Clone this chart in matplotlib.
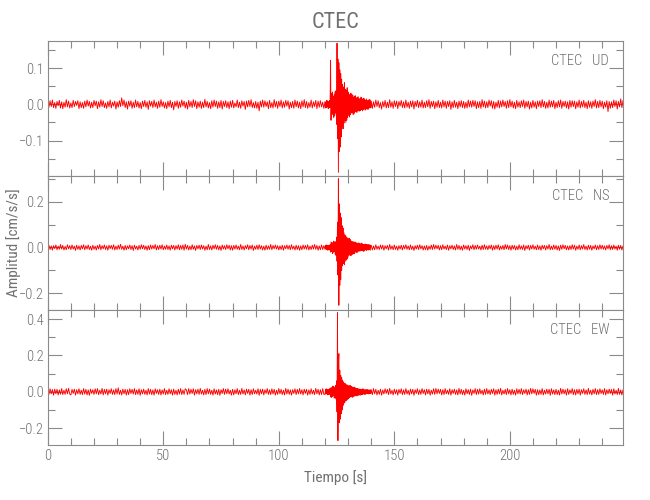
import numpy as np
import matplotlib
matplotlib.use('Agg')
import matplotlib.pyplot as plt
from matplotlib.ticker import MultipleLocator, FuncFormatter

# station / channels
station = 'CTEC'
channels = ['UD', 'NS', 'EW']

# sample times [s]: 0.5 s before and after the event, 0.2 s inside it
t_pre = np.arange(0, 120, 0.5)
t_evt = np.arange(120, 140, 0.2)
t_post = np.arange(140, 250, 0.5)

# amplitudes, in 0.001 cm/s/s
ud_pre = [3,-8,10,-6,12,-9,5,-11,8,-4,11,-10,7,-12,6,-8,13,-7,9,-10,
          4,-9,11,-6,8,-3,10,-12,7,-9,5,-11,9,-7,12,-5,8,-10,6,-9,
          11,-4,9,-12,7,-8,13,-6,10,-9,4,-11,8,-7,12,-10,6,-5,9,-13,
          7,-8,10,-6,18,-4,12,-9,7,-13,9,-5,10,-11,6,-9,12,-7,8,-10,
          5,-12,9,-6,11,-8,7,-14,10,-5,8,-9,12,-7,6,-11,9,-8,13,-6,
          7,-10,5,-12,9,-7,11,-9,6,-15,8,-6,10,-11,7,-8,12,-5,9,-10,
          6,-13,11,-7,8,-9,13,-6,10,-12,7,-8,9,-11,6,-9,14,-7,8,-10,
          5,-12,10,-8,12,-6,9,-11,7,-9,11,-13,8,-6,10,-9,7,-12,9,-8,
          11,-10,4,-7,12,-9,6,-11,10,-5,8,-14,9,-7,11,-6,13,-9,5,-10,
          8,-11,6,-18,9,-7,12,-8,10,-6,7,-12,11,-9,5,-10,13,-7,8,-11,
          9,-6,12,-10,7,-8,11,-5,10,-13,6,-9,8,-11,12,-7,9,-10,6,-12,
          10,-7,13,-9,8,-11,5,-8,12,-10,7,-6,11,-12,9,-8,10,-7,6,-11]
ud_evt = [8,-10,6,-9,11,-7,9,-12,7,-8,10,-9,
          122,-44,
          30,-25,34,-28,22,-36,27,-31,35,-24,38,
          -55,169,-95,125,-188,115,-130,95,-118,85,-90,
          70,-62,55,-68,48,-52,60,-45,42,-50,38,-44,46,-36,
          34,-30,28,-35,25,-29,31,-24,27,-22,26,-28,20,-25,23,-19,24,-21,18,-22,20,-17,21,-18,16,
          -19,15,-17,20,-14,16,-18,13,-15,17,-12,14,-16,11,-13,15,-12,10,-14,12,-11,13,-9,12,-10]
ud_post = [9,-11,7,-8,12,-6,10,-9,5,-13,8,-7,11,-10,6,-9,13,-8,7,-11,
           10,-6,9,-12,8,-5,11,-9,7,-10,12,-8,6,-11,9,-7,10,-13,8,-6,
           11,-9,7,-8,12,-10,6,-9,10,-7,13,-11,8,-6,9,-12,7,-8,11,-9,
           6,-10,12,-7,9,-11,8,-6,10,-14,7,-9,11,-8,6,-12,9,-7,10,-9,
           8,-11,6,-10,12,-7,9,-8,11,-6,10,-12,7,-9,8,-11,13,-7,9,-10,
           7,-9,12,-5,10,-11,8,-13,6,-8,11,-10,9,-7,12,-6,8,-11,10,-9,
           13,-7,9,-10,6,-12,11,-8,7,-9,10,-6,12,-11,8,-7,9,-13,6,-10,
           11,-8,7,-12,9,-6,10,-9,13,-7,8,-11,6,-10,12,-8,9,-7,11,-12,
           6,-9,10,-7,12,-11,8,-6,9,-10,7,-13,11,-8,10,-6,9,-12,7,-8,
           12,-10,8,-7,11,-9,6,-12,10,-8,7,-11,9,-6,13,-10,8,-9,11,-7,
           9,-12,6,-8,10,-20,8,-11,7,-9,12,-6,10,-13,8,-7,15,-9,11,-8]

ns_pre = [-6,10,-9,7,-12,8,-5,11,-10,6,-8,13,-7,9,-11,5,-10,12,-6,8,
          -9,11,-7,6,-13,10,-8,7,-11,9,-6,12,-10,8,-7,11,-9,5,-12,10,
          -8,6,-11,9,-7,13,-10,8,-6,11,-9,7,-12,10,-5,9,-8,12,-11,6,
          -9,10,-7,14,-8,6,-12,9,-10,7,-6,11,-9,8,-13,10,-7,6,-11,9,
          -8,12,-6,10,-9,7,-12,8,-10,11,-7,9,-6,13,-11,8,-9,10,-7,12,
          -10,6,-8,11,-9,7,-12,10,-6,9,-11,8,-7,12,-10,9,-8,11,-12,14,
          -7,9,-11,6,-10,12,-8,7,-13,9,-6,10,-9,11,-7,8,-12,6,-10,13,
          -9,7,-11,10,-6,12,-8,9,-10,7,-13,11,-7,8,-9,12,-6,10,-11,8,
          -12,9,-7,11,-8,6,-10,13,-9,7,-11,8,-6,12,-10,9,-7,11,-13,6,
          -8,10,-9,12,-7,8,-11,6,-12,10,-9,7,-8,13,-10,9,-6,11,-7,8,
          -11,7,-9,10,-12,8,-6,11,-8,9,-10,12,-7,6,-11,10,-9,8,-12,7,
          -10,11,-7,9,-8,12,-11,6,-9,10,-7,13,-8,9,-12,7,-10,11,-9,8]
ns_evt = [-8,10,-7,11,-9,8,-12,9,-10,7,-11,12,
          -20,24,
          -18,22,-26,19,-21,28,-17,23,-30,25,-35,
          45,-60,110,-120,300,-252,190,-165,150,-140,130,
          -100,95,-80,85,-70,65,-75,55,-60,50,-55,45,-50,40,
          -42,38,-35,40,-30,34,-36,28,-32,26,-30,25,-27,22,-28,24,-20,23,-21,18,-22,19,-17,20,-16,
          18,-15,17,-14,19,-13,16,-15,12,-17,14,-12,15,-11,13,-14,12,-10,13,-11,12,-9,11,-12,10]
ns_post = [9,-11,7,-10,12,-8,6,-9,11,-7,10,-12,8,-6,9,-11,13,-8,7,-10,
           11,-9,6,-12,8,-7,10,-11,9,-6,12,-8,7,-10,11,-9,6,-13,8,-7,
           10,-9,12,-6,8,-11,7,-10,9,-12,6,-8,11,-9,13,-7,10,-6,9,-11,
           8,-10,12,-7,6,-9,11,-12,8,-6,10,-9,7,-11,13,-8,9,-10,6,-12,
           11,-7,8,-9,10,-13,7,-6,12,-10,9,-8,11,-7,6,-11,10,-9,12,-8,
           7,-10,9,-6,11,-12,8,-9,10,-7,12,-11,6,-8,9,-10,13,-7,11,-9,
           8,-12,10,-7,9,-11,6,-10,12,-8,7,-9,11,-13,8,-6,10,-11,9,-7,
           12,-8,6,-10,11,-9,7,-12,10,-6,9,-11,8,-7,13,-10,6,-9,11,-8,
           9,-11,7,-13,10,-8,12,-6,9,-10,7,-11,8,-9,12,-7,10,-12,6,-8,
           11,-10,8,-7,13,-9,6,-11,10,-8,9,-12,7,-6,11,-10,8,-9,12,-7,
           10,-8,7,-11,9,-6,12,-10,8,-9,11,-7,6,-12,10,-8,9,-11,7,-10]

ew_pre = [8,-14,17,-11,13,-18,15,-10,14,-17,11,-13,18,-15,9,-14,17,-11,19,-12,
          -17,14,-9,15,-18,12,-11,17,-14,9,-15,18,-12,14,-17,11,-19,15,-9,12,
          -14,17,-11,18,-15,9,-12,19,-17,14,-11,15,-18,12,-9,17,-14,11,-15,18,
          -12,22,-14,9,-17,15,-11,14,-18,12,-15,17,-9,14,-12,18,-15,11,-14,17,
          -19,12,-11,15,-14,9,-17,18,-12,14,-15,11,-18,17,-9,12,-14,15,-17,11,
          -12,18,-15,9,-14,17,-11,12,-18,15,-14,9,-17,14,-12,18,-15,11,-14,17,
          11,-15,18,-12,14,-9,17,-18,12,-11,15,-14,19,-12,9,-17,14,-15,18,-11,
          15,-14,9,-18,17,-12,11,-15,14,-19,12,-9,18,-14,15,-11,17,-12,9,-18,
          14,-17,12,-11,18,-15,9,-14,19,-12,11,-17,15,-9,14,-18,12,-15,17,-11,
          9,-12,17,-19,14,-11,15,-17,12,-9,18,-14,11,-15,17,-12,14,-18,9,-14,
          18,-11,14,-15,9,-17,19,-12,15,-14,11,-18,12,-9,17,-15,14,-11,18,-12,
          12,-17,15,-9,14,-18,11,-14,17,-12,9,-15,19,-11,14,-17,12,-15,18,-14]
ew_evt = [-13,15,-12,17,-11,14,-16,12,-15,16,-13,18,
          -28,25,
          -30,22,-26,32,-20,28,-34,24,-30,36,-40,
          60,-110,435,-268,150,210,-170,120,-150,90,-120,
          80,-100,65,-75,55,-62,48,-58,45,-50,40,-46,38,-42,
          35,-38,30,-33,36,-28,32,-26,29,-30,25,-27,23,-24,26,-21,22,-20,19,-23,18,-20,17,-19,16,
          -17,15,-18,14,-16,13,-15,17,-12,14,-13,11,-15,12,-10,13,-11,12,-9,11,-12,10,-9,11,-10]
ew_post = [12,-15,18,-11,14,-17,9,-14,15,-18,11,-12,17,-9,14,-15,19,-12,9,-17,
           15,-11,12,-18,14,-9,17,-15,11,-14,18,-12,9,-17,15,-11,14,-19,12,-9,
           17,-15,11,-14,18,-9,12,-17,15,-11,14,-18,9,-12,17,-14,19,-11,15,-9,
           14,-17,12,-15,18,-11,9,-14,17,-18,12,-9,15,-14,11,-17,19,-12,14,-15,
           9,-18,17,-11,12,-14,15,-19,11,-9,18,-15,14,-12,17,-11,9,-17,15,-14,
           18,-12,11,-15,14,-9,17,-18,12,-14,15,-11,19,-17,9,-12,14,-15,18,-11,
           12,-17,15,-14,9,-18,17,-11,14,-12,18,-15,11,-9,15,-17,12,-14,19,-11,
           17,-9,14,-18,12,-15,11,-14,18,-17,9,-12,15,-11,14,-19,17,-12,11,-15,
           14,-15,9,-17,19,-12,15,-11,12,-18,17,-14,11,-9,18,-15,12,-17,14,-11,
           15,-18,12,-9,17,-14,11,-15,19,-12,9,-17,14,-11,18,-15,12,-14,17,-9,
           11,-14,18,-17,12,-11,15,-9,14,-18,17,-12,9,-15,19,-14,11,-17,12,-15]

# axis ranges and tick steps per panel
ylims = [(-0.197, 0.175), (-0.274, 0.313), (-0.292, 0.448)]
ymajor = [0.1, 0.2, 0.2]
yminor = [0.05, 0.1, 0.1]
xmax = 249.

traces = [(ud_pre, ud_evt, ud_post),
          (ns_pre, ns_evt, ns_post),
          (ew_pre, ew_evt, ew_post)]

plt.rcParams['font.family'] = ['Roboto Condensed', 'Archivo Narrow', 'DejaVu Sans']
plt.rcParams['font.weight'] = 'light'
txtcol = '#707070'
axcol = '#8a8a8a'


def yfmt(v, pos):
    s = '%.1f' % v
    if s == '-0.0':
        s = '0.0'
    return s.replace('-', '\u2212')


time = np.concatenate([t_pre, t_evt, t_post])

fig, axs = plt.subplots(3, 1, figsize=(6.5, 5), dpi=100, sharex=True)
fig.subplots_adjust(left=0.0735, right=0.9585, top=0.918, bottom=0.11, hspace=0)

for i, ax in enumerate(axs):
    amp = np.concatenate(traces[i]) / 1000.
    ax.plot(time, amp, color='red', lw=0.65)
    ax.set_ylim(ylims[i])
    ax.set_xlim([0, xmax])
    ax.yaxis.set_major_locator(MultipleLocator(ymajor[i]))
    ax.yaxis.set_minor_locator(MultipleLocator(yminor[i]))
    ax.yaxis.set_major_formatter(FuncFormatter(yfmt))
    ax.xaxis.set_major_locator(MultipleLocator(50))
    ax.xaxis.set_minor_locator(MultipleLocator(10))
    ax.tick_params(which='both', direction='in', top=True, right=True,
                   color=axcol, labelcolor=txtcol, labelsize=10.5, pad=3)
    ax.tick_params(which='major', length=10, width=0.8)
    ax.tick_params(which='minor', length=5, width=0.8)
    for sp in ax.spines.values():
        sp.set_color(axcol)
        sp.set_linewidth(0.8)
    ax.text(0.976, 1 - 20/134.5, '%s   %s' % (station, channels[i]),
            transform=ax.transAxes, ha='right', va='center',
            fontsize=10.5, color=txtcol)

axs[0].set_title(station, fontsize=16, color=txtcol, pad=9)
axs[2].set_xlabel('Tiempo [s]', fontsize=11, color=txtcol, labelpad=5)
axs[1].set_ylabel('Amplitud [cm/s/s]', fontsize=11, color=txtcol)
axs[1].yaxis.set_label_coords(-0.046, 0.5)

fig.savefig('out.png', dpi=100)
